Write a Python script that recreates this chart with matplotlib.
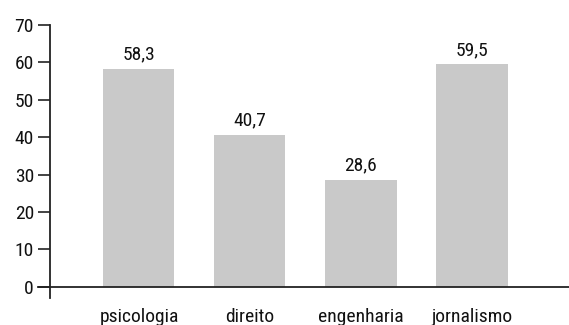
import matplotlib
matplotlib.use("Agg")
import matplotlib.pyplot as plt
from matplotlib import font_manager

cursos = ["psicologia", "direito", "engenharia", "jornalismo"]
valores = [58.3, 40.7, 28.6, 59.5]
rotulos = ["58,3", "40,7", "28,6", "59,5"]
yticks = [0, 10, 20, 30, 40, 50, 60, 70]

# narrow sans-serif face, first one installed wins
available = {f.name for f in font_manager.fontManager.ttflist}
preferred = ["Roboto Condensed", "Archivo Narrow", "PT Sans Narrow", "Fira Sans Condensed",
             "IBM Plex Sans Condensed", "Liberation Sans Narrow", "DejaVu Sans"]
family = next(f for f in preferred if f in available or f == "DejaVu Sans")
plt.rcParams["font.family"] = [family, "DejaVu Sans"]

FS = 14
INK = "#111111"

fig = plt.figure(figsize=(5.69, 3.25), dpi=100)
ax = fig.add_axes([0.0, 27 / 325, 1.0, 273 / 325])

x = list(range(len(cursos)))
ax.bar(x, valores, width=0.64, color="#c9c9c9", edgecolor="none", zorder=2)

for xi, v, lab in zip(x, valores, rotulos):
    ax.text(xi, v + 2.5, lab, ha="center", va="baseline", fontsize=FS, color=INK)

# pixel 0 -> -1.252, pixel 569 -> 3.874 (111 px per category)
ax.set_xlim(-1.252, 3.874)
ax.set_ylim(-3, 70)
ax.spines["left"].set_position(("data", -0.802))
ax.spines["bottom"].set_position(("data", 0))
ax.spines["bottom"].set_bounds(-0.91, 3.874)
for s in ("top", "right"):
    ax.spines[s].set_visible(False)
for s in ("left", "bottom"):
    ax.spines[s].set_linewidth(1.3)
    ax.spines[s].set_color("#222222")

ax.set_yticks(yticks)
ax.set_yticklabels([str(t) for t in yticks], fontsize=FS, color=INK)
ax.tick_params(axis="y", direction="out", length=8.5, width=1.2, color="#222222", pad=3)
ax.set_xticks([])

for xi, c in zip(x, cursos):
    ax.text(xi, -9.3, c, ha="center", va="baseline", fontsize=FS, color=INK,
            clip_on=False)

fig.savefig("out.png", dpi=100, facecolor="white")
